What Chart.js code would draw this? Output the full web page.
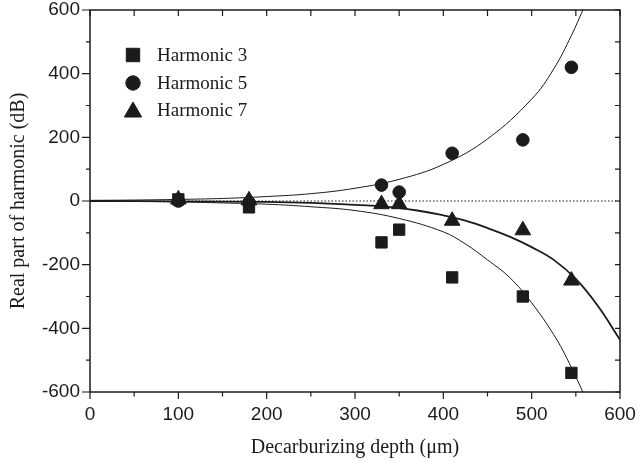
<!DOCTYPE html>
<html>
<head>
<meta charset="utf-8">
<script src="https://cdn.jsdelivr.net/npm/chart.js@4.4.0/dist/chart.umd.min.js"></script>
<style>
  html, body { margin: 0; padding: 0; background: #fff; }
</style>
</head>
<body>
<canvas id="chart" width="638" height="462"></canvas>
<script>
// Measured points (depth in um, real part in dB)
const depths = [100, 180, 330, 350, 410, 490, 545];
const harm3 = [5, -20, -130, -90, -240, -300, -540];
const harm5 = [0, -5, 50, 28, 150, 192, 420];
const harm7 = [5, 2, -10, -10, -62, -92, -250];

// Fitted curves
const fit5X = [0, 50, 100, 150, 200, 250, 300, 350, 400, 450, 500, 525, 545, 558];
const fit5Y = [2, 3, 5, 8, 14, 23, 40, 68, 115, 195, 320, 415, 520, 600];
const fit3X = [0, 50, 100, 150, 200, 250, 300, 350, 400, 425, 450, 475, 500, 525, 540, 558];
const fit3Y = [0, -1, -3, -6, -10, -18, -30, -55, -97, -135, -185, -240, -320, -420, -495, -600];
const fit7X = [0, 100, 200, 250, 300, 350, 400, 425, 450, 475, 500, 525, 550, 575, 600];
const fit7Y = [0, -1, -3, -6, -12, -22, -45, -62, -85, -112, -145, -185, -245, -330, -436];

const xTicks = [0, 100, 200, 300, 400, 500, 600];
const yTicks = [-600, -400, -200, 0, 200, 400, 600];

const ink = "#1c1a1b";
const pts = (xs, ys) => xs.map((x, i) => ({ x: x, y: ys[i] }));

const markerSets = [
  { label: "Harmonic 3", style: "rect", data: harm3, radius: 8, legendRadius: 9.5 },
  { label: "Harmonic 5", style: "circle", data: harm5, radius: 6.3, legendRadius: 7.2 },
  { label: "Harmonic 7", style: "triangle", data: harm7, radius: 9, legendRadius: 10 },
];

// frame, mirrored ticks and legend drawn with the chart's own scales
const framePlugin = {
  id: "frame",
  afterDatasetsDraw(chart) {
    const { ctx, chartArea: a, scales } = chart;
    const xs = scales.x, ys = scales.y;
    ctx.save();
    ctx.strokeStyle = ink;
    ctx.lineWidth = 1.5;
    ctx.strokeRect(a.left, a.top, a.right - a.left, a.bottom - a.top);
    ctx.lineWidth = 1.2;
    ctx.beginPath();
    for (let v = 0; v <= 600; v += 50) {
      const px = xs.getPixelForValue(v);
      const major = v % 100 === 0;
      ctx.moveTo(px, a.bottom);
      ctx.lineTo(px, a.bottom + (major ? 7 : 4.5));
      ctx.moveTo(px, a.top);
      ctx.lineTo(px, a.top + 6);
    }
    for (let v = -600; v <= 600; v += 100) {
      const py = ys.getPixelForValue(v);
      const major = v % 200 === 0;
      ctx.moveTo(a.left, py);
      ctx.lineTo(a.left - (major ? 8 : 4), py);
      ctx.moveTo(a.right, py);
      ctx.lineTo(a.right - 5, py);
    }
    ctx.stroke();

    // legend
    const lx = 133, ly = [55, 83, 110];
    ctx.font = "19px 'Liberation Serif', 'Times New Roman', serif";
    ctx.textBaseline = "middle";
    markerSets.forEach((m, i) => {
      ctx.fillStyle = ink;
      ctx.strokeStyle = ink;
      ctx.lineWidth = 1;
      Chart.helpers.drawPoint(ctx, { pointStyle: m.style, radius: m.legendRadius, rotation: 0, borderWidth: 1 }, lx, ly[i] + (m.style === "triangle" ? 2 : 0));
      ctx.fillStyle = ink;
      ctx.fillText(m.label, 157, ly[i] + 1);
    });
    ctx.restore();
  },
};

const datasets = markerSets.map((m) => ({
  label: m.label,
  type: "scatter",
  data: pts(depths, m.data),
  pointStyle: m.style,
  pointRadius: m.radius,
  pointBackgroundColor: ink,
  pointBorderColor: ink,
  pointBorderWidth: 1,
  showLine: false,
}));

const curve = (xs, ys, w) => ({
  type: "line",
  data: pts(xs, ys),
  borderColor: ink,
  borderWidth: w,
  pointRadius: 0,
  tension: 0.4,
  fill: false,
});

datasets.push(curve(fit7X, fit7Y, 1.8));
datasets.push(curve(fit5X, fit5Y, 1));
datasets.push(curve(fit3X, fit3Y, 1));
datasets.push({
  type: "line",
  data: [{ x: 0, y: 0 }, { x: 600, y: 0 }],
  borderColor: ink,
  borderWidth: 1,
  borderDash: [1.5, 2],
  pointRadius: 0,
});

const tickFont = { family: "'Liberation Sans', Arial, sans-serif", size: 19 };
const titleFont = { family: "'Liberation Serif', 'Times New Roman', serif", size: 20 };

new Chart(document.getElementById("chart"), {
  type: "scatter",
  data: { datasets: datasets },
  options: {
    responsive: false,
    animation: false,
    devicePixelRatio: 1,
    layout: { padding: { left: 0, right: 18, top: 10, bottom: 0 } },
    plugins: { legend: { display: false }, tooltip: { enabled: false } },
    scales: {
      x: {
        type: "linear",
        min: 0,
        max: 600,
        afterFit: (s) => { s.height = 70; s.paddingLeft = 0; s.paddingRight = 0; },
        afterBuildTicks: (s) => { s.ticks = xTicks.map((v) => ({ value: v })); },
        grid: { display: false, drawTicks: false },
        border: { display: false },
        ticks: { color: ink, font: tickFont, padding: 11, maxRotation: 0 },
        title: { display: true, text: "Decarburizing depth (\u03bcm)", color: ink, font: titleFont, padding: { top: 0, bottom: 2 } },
      },
      y: {
        type: "linear",
        min: -600,
        max: 600,
        afterFit: (s) => { s.width = 90; s.paddingTop = 0; s.paddingBottom = 0; },
        afterBuildTicks: (s) => { s.ticks = yTicks.map((v) => ({ value: v })); },
        grid: { display: false, drawTicks: false },
        border: { display: false },
        ticks: { color: ink, font: tickFont, padding: 10 },
        title: { display: true, text: "Real part of harmonic (dB)", color: ink, font: titleFont, padding: { top: 7, bottom: 0 } },
      },
    },
  },
  plugins: [framePlugin],
});
</script>
</body>
</html>
